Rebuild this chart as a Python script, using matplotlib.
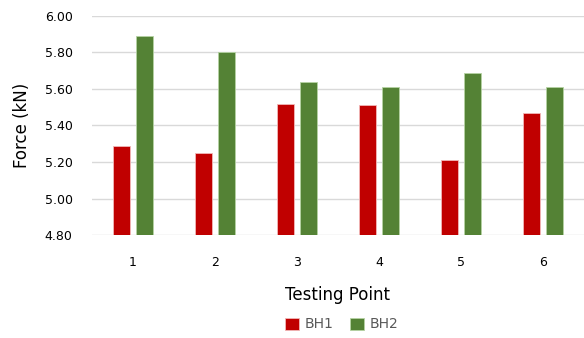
import numpy as np
import matplotlib.pyplot as plt

# data
points = ["1", "2", "3", "4", "5", "6"]
bh1 = [5.29, 5.25, 5.52, 5.51, 5.21, 5.47]
bh2 = [5.89, 5.80, 5.64, 5.61, 5.69, 5.61]
yticks = [4.80, 5.00, 5.20, 5.40, 5.60, 5.80, 6.00]

plt.rcParams['font.family'] = ['DejaVu Sans']

fig = plt.figure(figsize=(5.84, 3.38), dpi=100)
ax = fig.add_axes([0.1575, 0.3047, 0.8425, 0.648])

x = np.arange(len(points))
w = 0.214
off = 0.142
ax.bar(x - off, bh1, width=w, color='#C00000', edgecolor='#F2B8B8',
       linewidth=0.6, label='BH1', zorder=3)
ax.bar(x + off, bh2, width=w, color='#548235', edgecolor='#B5D3A3',
       linewidth=0.6, label='BH2', zorder=3)

ax.set_xlim(-0.5, len(points) - 0.5)
ax.set_ylim(4.80, 6.00)
ax.set_yticks(yticks)
ax.set_yticklabels([f"{v:.2f}" for v in yticks])
ax.set_xticks(x)
ax.set_xticklabels(points)
ax.tick_params(axis='y', length=0, pad=14, labelsize=9, labelcolor='#000000')
ax.tick_params(axis='x', length=0, pad=15, labelsize=9, labelcolor='#000000')

ax.grid(axis='y', color='#D9D9D9', linewidth=1.0, zorder=0)
for s in ax.spines.values():
    s.set_visible(False)

ax.set_ylabel('Force (kN)', fontsize=12, color='#000000', labelpad=10)
ax.set_xlabel('Testing Point', fontsize=12, color='#000000', labelpad=12)

fig.legend(loc='center', bbox_to_anchor=(0.585, 0.04), ncol=2, frameon=False,
           fontsize=10, handlelength=1.0, handleheight=1.0, handletextpad=0.4,
           columnspacing=1.2, labelcolor='#595959')

fig.savefig('out.png', dpi=100)
